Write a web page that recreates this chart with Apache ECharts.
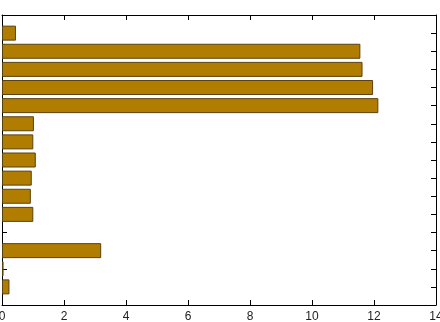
<!DOCTYPE html>
<html>
<head>
<meta charset="utf-8">
<script src="https://cdn.jsdelivr.net/npm/echarts@6/dist/echarts.min.js"></script>
<style>
  html, body { margin: 0; padding: 0; background: #fff; }
  #chart { width: 440px; height: 322px; }
</style>
</head>
<body>
<div id="chart"></div>
<script>
// category slots, bottom to top (0 and 16 are empty padding slots)
const slots = ["0", "1", "2", "3", "4", "5", "6", "7", "8", "9", "10", "11", "12", "13", "14", "15", "16"];
const values = ["-", 0.24, 0.05, 3.2, "-", 1.01, 0.93, 0.96, 1.09, 1.01, 1.03, 12.14, 11.97, 11.63, 11.56, 0.45, "-"];
const xTicks = [0, 2, 4, 6, 8, 10, 12, 14];

const chart = echarts.init(document.getElementById("chart"));

const tickStyle = { show: true, inside: true, length: 5, lineStyle: { color: "#000", width: 1 } };
const lineStyle = { show: true, onZero: false, lineStyle: { color: "#000", width: 1 } };

chart.setOption({
  animation: false,
  grid: { left: 2, right: 4, top: 15, bottom: 17, containLabel: false, outerBoundsMode: "none" },
  xAxis: [
    {
      type: "value",
      min: xTicks[0],
      max: xTicks[xTicks.length - 1],
      interval: 2,
      position: "bottom",
      axisLine: lineStyle,
      axisTick: tickStyle,
      splitLine: { show: false },
      axisLabel: { color: "#222", fontSize: 12, fontFamily: "Liberation Sans", margin: 6, showMaxLabel: true, hideOverlap: false },
    },
    {
      type: "value",
      min: xTicks[0],
      max: xTicks[xTicks.length - 1],
      interval: 2,
      position: "top",
      axisLine: lineStyle,
      axisTick: tickStyle,
      splitLine: { show: false },
      axisLabel: { show: false },
    },
  ],
  yAxis: [
    {
      type: "category",
      data: slots,
      boundaryGap: false,
      position: "left",
      axisLine: lineStyle,
      axisTick: tickStyle,
      axisLabel: { show: false },
      splitLine: { show: false },
    },
    {
      type: "category",
      data: slots,
      boundaryGap: false,
      position: "right",
      axisLine: lineStyle,
      axisTick: tickStyle,
      axisLabel: { show: false },
      splitLine: { show: false },
    },
  ],
  series: [
    {
      type: "bar",
      xAxisIndex: 0,
      yAxisIndex: 0,
      data: values,
      barWidth: 15,
      itemStyle: { color: "#b07d00", borderColor: "#5a4210", borderWidth: 1 },
    },
  ],
});
</script>
</body>
</html>
